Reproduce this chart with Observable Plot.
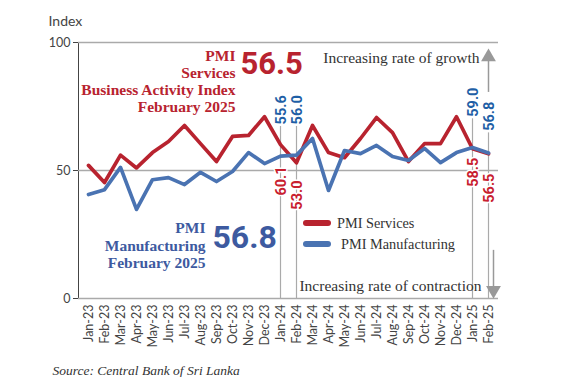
<!DOCTYPE html>
<html>
<head>
<meta charset="utf-8">
<script src="https://cdn.jsdelivr.net/npm/d3@7"></script>
<script src="https://cdn.jsdelivr.net/npm/@observablehq/plot@0.6"></script>
<style>
  html, body { margin: 0; padding: 0; background: #fff; }
  #chart svg { display: block; }
</style>
</head>
<body>
<div id="chart"></div>
<script>
// ---- data ----
const months = ["Jan-23","Feb-23","Mar-23","Apr-23","May-23","Jun-23","Jul-23","Aug-23","Sep-23","Oct-23","Nov-23","Dec-23",
  "Jan-24","Feb-24","Mar-24","Apr-24","May-24","Jun-24","Jul-24","Aug-24","Sep-24","Oct-24","Nov-24","Dec-24","Jan-25","Feb-25"];
const services = [52.0,45.3,56.0,51.0,57.0,61.3,67.6,60.5,53.5,63.3,63.7,71.0,
  60.1,53.0,67.6,57.0,55.0,62.5,70.7,64.8,53.5,60.5,60.5,71.0,58.5,56.5];
const manufacturing = [40.6,42.5,51.2,34.8,46.4,47.2,44.5,49.3,45.7,49.6,57.0,52.7,
  55.6,56.0,62.5,42.2,57.8,56.6,59.8,55.5,53.9,58.6,53.1,57.0,59.0,56.8];
const yTicks = [0, 50, 100];
const labelledMonths = ["Jan-24","Feb-24","Jan-25","Feb-25"];

// ---- styles ----
const RED = "#b8232f";
const BLUE = "#4a73b2";
const BLUE_TXT = "#3d5aa0";
const GRID = "#aaaaaa";
const SERIF = "Liberation Serif, serif";

const rows = [];
months.forEach((m, i) => {
  rows.push({month: m, value: services[i], series: "PMI Services"});
  rows.push({month: m, value: manufacturing[i], series: "PMI Manufacturing"});
});

const callouts = labelledMonths.map(m => {
  const i = months.indexOf(m);
  return {month: m, s: services[i], mf: manufacturing[i]};
});
// layout anchors (value units) for the rotated labels
const blueTop = {"Jan-24": 68, "Feb-24": 68, "Jan-25": 71, "Feb-25": 65.5};
const redTop = {"Jan-24": 51.6, "Feb-24": 46.1, "Jan-25": 55, "Feb-25": 48.8};

const lastS = services[services.length - 1].toFixed(1);
const lastM = manufacturing[manufacturing.length - 1].toFixed(1);

function legend() {
  const g = d3.create("svg:g").attr("text-anchor", "start");
  const items = [
    {y: 223, color: RED, label: "PMI Services", tx: 337},
    {y: 244, color: BLUE, label: "PMI Manufacturing", tx: 341}
  ];
  for (const it of items) {
    g.append("line").attr("x1", 306).attr("x2", 328).attr("y1", it.y).attr("y2", it.y)
      .attr("stroke", it.color).attr("stroke-width", 6).attr("stroke-linecap", "round");
    g.append("text").attr("x", it.tx).attr("y", it.y).attr("dy", "0.32em")
      .attr("font-family", SERIF).attr("font-size", 14.3).attr("fill", "#333").text(it.label);
  }
  return g.node();
}

const fa = (text, dx, dy, o = {}) => Plot.text([text], {frameAnchor: "top-left", lineAnchor: "middle", dx, dy, ...o});
const redNote = {textAnchor: "end", fontFamily: SERIF, fontWeight: 700, fontSize: 15.5, fill: RED};
const blueNote = {textAnchor: "end", fontFamily: SERIF, fontWeight: 700, fontSize: 15.5, fill: BLUE_TXT};

const chart = Plot.plot({
  width: 565,
  height: 377,
  marginLeft: 78,
  marginRight: 67,
  marginTop: 42,
  marginBottom: 79,
  style: {fontFamily: "Lato, sans-serif", fontSize: "12.5px", color: "#444", background: "#fff"},
  x: {type: "point", domain: months, padding: 0.5, tickRotate: -90, tickSize: 0, tickPadding: 6, label: null},
  y: {domain: [0, 100], ticks: yTicks, tickSize: 5, tickPadding: 3, label: null, line: true},
  marks: [
    Plot.ruleY(yTicks, {stroke: GRID, strokeWidth: 1.3}),
    Plot.ruleX(callouts, {x: "month", y1: 0, y2: d => blueTop[d.month] - 0.8, stroke: GRID, strokeWidth: 1.2}),
    Plot.ruleX(["Feb-25"], {x: d => d, y1: 80.5, y2: 93, stroke: "#999", strokeWidth: 1.5}),
    Plot.dot(["Feb-25"], {x: d => d, y: 94.3, symbol: "triangle", r: 5.5, fill: "#999", stroke: null}),
    Plot.ruleX(["Feb-25"], {x: d => d, y1: 18.8, y2: 4, dx: 5, stroke: "#999", strokeWidth: 1.5}),
    Plot.dot(["Feb-25"], {x: d => d, y: 3.2, dx: 5, symbol: "triangle", rotate: 180, r: 5.5, fill: "#999", stroke: null}),
    Plot.line(rows.filter(d => d.series === "PMI Services"), {x: "month", y: "value", stroke: RED, strokeWidth: 3.7}),
    Plot.line(rows.filter(d => d.series === "PMI Manufacturing"), {x: "month", y: "value", stroke: BLUE, strokeWidth: 3.7}),
    Plot.text(callouts, {x: "month", y: d => blueTop[d.month], dx: 1, text: d => d.mf.toFixed(1), rotate: -90, textAnchor: "start",
      fill: "#1f5fa6", fontFamily: "Roboto, sans-serif", fontWeight: 700, fontSize: 14.5}),
    Plot.text(callouts, {x: "month", y: d => redTop[d.month], dx: 1, text: d => d.s.toFixed(1), rotate: -90, textAnchor: "end",
      fill: "#c8202f", fontFamily: "Roboto, sans-serif", fontWeight: 700, fontSize: 14.5, stroke: "white", strokeWidth: 3}),
    fa("Index", -30, -21, {textAnchor: "start", fontSize: 14, fill: "#444"}),
    fa("PMI", 157, 14, redNote),
    fa("Services", 157, 31, redNote),
    fa("Business Activity Index", 157, 48, redNote),
    fa("February 2025", 157, 65, redNote),
    fa(lastS, 162, 22, {textAnchor: "start", fontFamily: "Roboto, sans-serif", fontWeight: 700, fontSize: 31, letterSpacing: -1.5, fill: RED}),
    fa("PMI", 127, 186, blueNote),
    fa("Manufacturing", 127, 204, blueNote),
    fa("February 2025", 127, 221, blueNote),
    fa(lastM, 134, 195, {textAnchor: "start", fontFamily: "Roboto, sans-serif", fontWeight: 700, fontSize: 32, letterSpacing: -1.5, fill: BLUE_TXT}),
    fa("Increasing rate of growth", 401, 16, {textAnchor: "end", fontFamily: SERIF, fontSize: 15.5, fill: "#333"}),
    fa("Increasing rate of contraction", 403, 244, {textAnchor: "end", fontFamily: SERIF, fontSize: 15.5, fill: "#333"}),
    fa("Source: Central Bank of Sri Lanka", -26, 328, {textAnchor: "start", fontFamily: SERIF, fontStyle: "italic", fontSize: 13.5, fill: "#333"}),
    legend
  ]
});
document.getElementById("chart").appendChild(chart);
</script>
</body>
</html>
